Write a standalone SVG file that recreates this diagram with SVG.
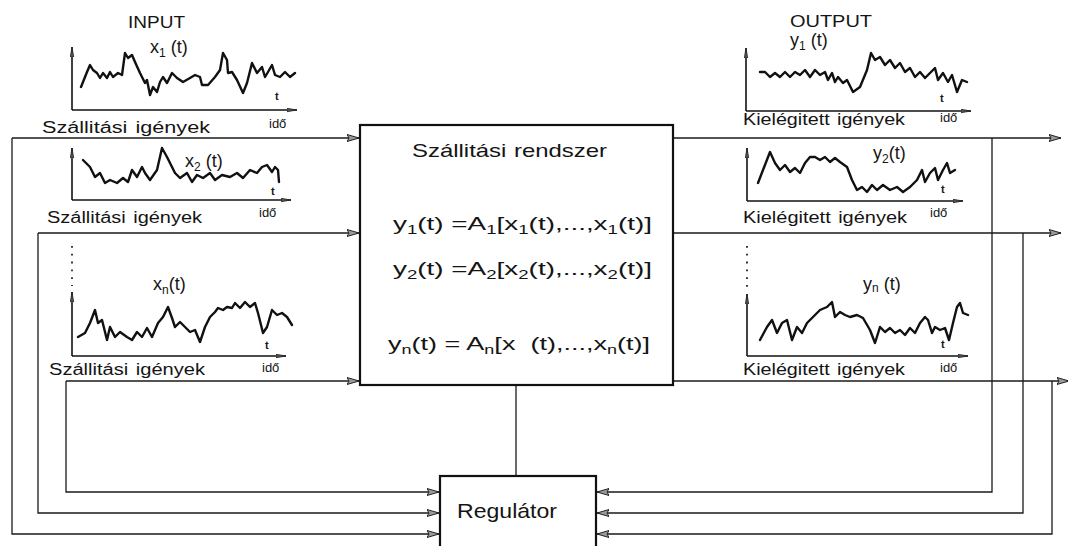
<svg xmlns="http://www.w3.org/2000/svg" width="1068" height="546" viewBox="0 0 1068 546">
<defs>
<marker id="arr" markerUnits="userSpaceOnUse" markerWidth="14" markerHeight="10" refX="12" refY="4" orient="auto">
<path d="M0,0.5 L12,4 L0,7.5 L2,4 z" fill="#9a9a9a" stroke="#222" stroke-width="1"/>
</marker>
<marker id="ax" markerUnits="userSpaceOnUse" markerWidth="12" markerHeight="6" refX="10" refY="2.5" orient="auto">
<path d="M0,0.8 L10,2.5 L0,4.2 z" fill="#555" stroke="#222" stroke-width="0.8"/>
</marker>
<style>
text{font-family:"Liberation Sans",Arial,sans-serif;fill:#141414}
.lbl{font-size:16px}
.ido{font-size:13px}
.fn{font-size:18px}
.tm{font-size:11px;font-weight:bold}
.ttl{font-size:17px}
.conn{fill:none;stroke:#1a1a1a;stroke-width:1.3}
.axis{fill:none;stroke:#111;stroke-width:1.6}
.sig{fill:none;stroke:#111;stroke-width:2.4;stroke-linejoin:round;stroke-linecap:round}
.box{fill:#fff;stroke:#111;stroke-width:2.2}
.dots{fill:none;stroke:#222;stroke-width:1.8;stroke-dasharray:1.8 6}
</style>
</defs>

<g id="connectors">
<path class="conn" d="M12,138 H359" marker-end="url(#arr)"/>
<path class="conn" d="M12,138 V534 H439" marker-end="url(#arr)"/>
<path class="conn" d="M38,233 H359" marker-end="url(#arr)"/>
<path class="conn" d="M38,233 V513 H439" marker-end="url(#arr)"/>
<path class="conn" d="M66,381 H359" marker-end="url(#arr)"/>
<path class="conn" d="M66,381 V492 H439" marker-end="url(#arr)"/>
<path class="conn" d="M673,138 H1061" marker-end="url(#arr)"/>
<path class="conn" d="M992,138 V492 H597" marker-end="url(#arr)"/>
<path class="conn" d="M673,233 H1061" marker-end="url(#arr)"/>
<path class="conn" d="M1023,233 V513 H597" marker-end="url(#arr)"/>
<path class="conn" d="M673,381 H1069" marker-end="url(#arr)"/>
<path class="conn" d="M1052,381 V534 H597" marker-end="url(#arr)"/>
<path class="conn" d="M516,385 V476"/>
</g>

<g id="input-1">
<text class="ttl" x="128" y="28" textLength="57" lengthAdjust="spacingAndGlyphs">INPUT</text>
<text class="fn" x="150" y="53">x<tspan font-size="12" dy="4">1</tspan><tspan dy="-4"> (t)</tspan></text>
<path class="axis" d="M72,110 V47" marker-end="url(#ax)"/>
<path class="axis" d="M72,110 H297" marker-end="url(#ax)"/>
<polyline class="sig" points="81,87 87,72 90,65 93,70 97,73 100,78 103,73 107,78 110,72 113,77 118,73 122,75 125,53 128,58 132,55 135,62 140,73 145,83 147,80 150,95 153,87 157,92 160,82 163,77 167,83 172,73 177,78 183,82 190,78 195,75 200,77 202,85 208,85 215,77 220,70 223,53 227,60 228,73 232,72 237,80 243,93 247,83 252,63 257,73 262,67 265,77 268,72 272,65 275,75 280,77 285,72 290,77 295,73"/>
<text class="tm" x="275" y="100">t</text>
<text class="lbl" x="42" y="133" textLength="168" lengthAdjust="spacingAndGlyphs">Szállitási<tspan dx="6">igények</tspan></text>
<text class="ido" x="269" y="128">idő</text>
</g>

<g id="input-2">
<text class="fn" x="185" y="167">x<tspan font-size="12" dy="4">2</tspan><tspan dy="-4"> (t)</tspan></text>
<path class="axis" d="M72,200 V148" marker-end="url(#ax)"/>
<path class="axis" d="M72,200 H291" marker-end="url(#ax)"/>
<polyline class="sig" points="83,160 90,167 95,177 100,173 105,183 110,180 117,183 123,178 128,182 132,170 137,177 142,167 145,173 150,180 157,170 162,148 167,157 170,163 175,173 180,178 187,173 192,182 197,175 203,178 210,173 215,180 222,175 230,177 237,173 243,178 250,170 257,173 262,167 267,165 272,172 275,167 278,170 279,182"/>
<text class="tm" x="271" y="195">t</text>
<text class="lbl" x="47" y="223" textLength="155" lengthAdjust="spacingAndGlyphs">Szállitási<tspan dx="6">igények</tspan></text>
<text class="ido" x="259" y="217">idő</text>
</g>

<g id="input-n">
<path class="dots" d="M72,246 V286"/>
<text class="fn" x="153" y="290">x<tspan font-size="12" dy="4">n</tspan><tspan dy="-4">(t)</tspan></text>
<path class="axis" d="M72,356 V292" marker-end="url(#ax)"/>
<path class="axis" d="M72,356 H286" marker-end="url(#ax)"/>
<polyline class="sig" points="78,337 85,333 90,323 95,310 98,323 102,320 107,340 110,327 115,337 120,332 127,337 132,340 137,332 142,337 147,328 152,337 158,323 163,317 168,307 172,318 175,327 180,322 185,327 190,332 195,330 200,342 205,327 210,317 215,312 218,308 223,310 227,307 232,308 235,303 240,308 245,302 250,307 255,303 258,313 263,333 267,327 272,310 277,315 282,313 287,317 292,325"/>
<text class="tm" x="265" y="349">t</text>
<text class="lbl" x="49" y="375" textLength="156" lengthAdjust="spacingAndGlyphs">Szállitási<tspan dx="6">igények</tspan></text>
<text class="ido" x="262" y="372">idő</text>
</g>

<g id="szallitasi-rendszer">
<rect class="box" x="360" y="125" width="313" height="260"/>
<text x="412" y="157" font-size="19" textLength="195" lengthAdjust="spacingAndGlyphs">Szállitási<tspan dx="6">rendszer</tspan></text>
<text class="fn" x="393" y="230" textLength="259" lengthAdjust="spacingAndGlyphs">y<tspan font-size="12" dy="4">1</tspan><tspan dy="-4">(t) =A</tspan><tspan font-size="12" dy="4">1</tspan><tspan dy="-4">[x</tspan><tspan font-size="12" dy="4">1</tspan><tspan dy="-4">(t),...,x</tspan><tspan font-size="12" dy="4">1</tspan><tspan dy="-4">(t)]</tspan></text>
<text class="fn" x="393" y="275" textLength="259" lengthAdjust="spacingAndGlyphs">y<tspan font-size="12" dy="4">2</tspan><tspan dy="-4">(t) =A</tspan><tspan font-size="12" dy="4">2</tspan><tspan dy="-4">[x</tspan><tspan font-size="12" dy="4">2</tspan><tspan dy="-4">(t),...,x</tspan><tspan font-size="12" dy="4">2</tspan><tspan dy="-4">(t)]</tspan></text>
<text class="fn" x="388" y="350" textLength="262" lengthAdjust="spacingAndGlyphs">y<tspan font-size="12" dy="4">n</tspan><tspan dy="-4">(t) = A</tspan><tspan font-size="12" dy="4">n</tspan><tspan dy="-4">[x</tspan><tspan dx="10">(t),...,x</tspan><tspan font-size="12" dy="4">n</tspan><tspan dy="-4">(t)]</tspan></text>
</g>

<g id="output-1">
<text class="ttl" x="790" y="27" textLength="82" lengthAdjust="spacingAndGlyphs">OUTPUT</text>
<text class="fn" x="790" y="46">y<tspan font-size="12" dy="4">1</tspan><tspan dy="-4"> (t)</tspan></text>
<path class="axis" d="M746,111 V48" marker-end="url(#ax)"/>
<path class="axis" d="M746,111 H971" marker-end="url(#ax)"/>
<polyline class="sig" points="760,72 765,72 770,77 775,73 780,77 785,72 790,77 795,72 800,75 805,70 810,77 815,70 820,75 825,72 828,80 832,73 835,82 838,77 843,83 847,80 853,92 860,87 867,70 871,53 875,60 880,57 885,65 890,60 895,68 900,63 905,72 910,68 915,77 920,72 925,78 930,73 935,68 938,80 943,73 948,82 952,75 957,92 962,80 967,82"/>
<text class="tm" x="940" y="102">t</text>
<text class="lbl" x="743" y="125" textLength="162" lengthAdjust="spacingAndGlyphs">Kielégitett<tspan dx="6">igények</tspan></text>
<text class="ido" x="940" y="122">idő</text>
</g>

<g id="output-2">
<text class="fn" x="873" y="159">y<tspan font-size="12" dy="4">2</tspan><tspan dy="-4">(t)</tspan></text>
<path class="axis" d="M747,201 V148" marker-end="url(#ax)"/>
<path class="axis" d="M747,201 H963" marker-end="url(#ax)"/>
<polyline class="sig" points="758,183 763,170 770,152 775,163 780,170 785,165 790,172 795,168 800,173 805,163 810,157 815,157 820,160 825,157 830,162 835,158 840,162 847,167 852,180 857,190 862,187 867,192 872,185 877,190 883,185 890,190 897,187 903,192 910,187 917,180 922,170 925,182 930,173 935,168 938,180 943,170 947,163 950,173 955,170"/>
<text class="tm" x="941" y="193">t</text>
<text class="lbl" x="743" y="223" textLength="164" lengthAdjust="spacingAndGlyphs">Kielégitett<tspan dx="6">igények</tspan></text>
<text class="ido" x="930" y="217">idő</text>
</g>

<g id="output-n">
<path class="dots" d="M747,246 V288"/>
<text class="fn" x="863" y="290">y<tspan font-size="12" dy="2">n</tspan><tspan dy="-2"> (t)</tspan></text>
<path class="axis" d="M747,356 V294" marker-end="url(#ax)"/>
<path class="axis" d="M747,356 H968" marker-end="url(#ax)"/>
<polyline class="sig" points="760,340 767,327 772,320 777,333 782,323 787,320 792,340 797,327 802,333 807,323 813,317 820,310 827,307 832,302 835,317 840,312 845,315 850,317 857,315 863,318 870,330 875,343 880,327 885,332 890,328 895,333 900,330 905,335 910,328 915,333 920,323 925,317 928,320 932,333 935,327 940,330 945,328 949,340 953,323 957,307 960,303 963,313 968,315"/>
<text class="tm" x="941" y="348">t</text>
<text class="lbl" x="743" y="375" textLength="162" lengthAdjust="spacingAndGlyphs">Kielégitett<tspan dx="6">igények</tspan></text>
<text class="ido" x="940" y="372">idő</text>
</g>

<g id="regulator">
<rect class="box" x="440" y="476" width="156" height="80"/>
<text x="457" y="518" font-size="21" textLength="100" lengthAdjust="spacingAndGlyphs">Regulátor</text>
</g>
</svg>
